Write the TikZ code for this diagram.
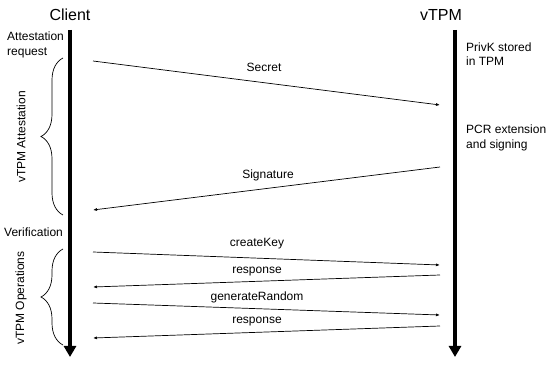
\documentclass[tikz,border=0pt]{standalone}
\usepackage{fontspec}
\setmainfont{Liberation Sans}
\usetikzlibrary{arrows.meta,decorations.pathreplacing}
\begin{document}
\begin{tikzpicture}[x=1pt,y=-1pt,
  lifeline/.style={line width=4pt,-{Triangle[length=11pt,width=12pt]}},
  msg/.style={line width=0.7pt,-{Latex[length=4pt,width=3pt]}},
  title/.style={font=\fontsize{16}{19}\selectfont,inner sep=0pt},
  lbl/.style={font=\fontsize{12}{14.5}\selectfont,inner sep=0pt},
  note/.style={font=\fontsize{12}{14.5}\selectfont,inner sep=0pt,align=left,anchor=west},
  bracestyle/.style={line width=0.7pt,decorate,decoration={brace,amplitude=22pt,aspect=0.5}}]
\useasboundingbox (0,0) rectangle (550,366);
% titles
\node[title] (client) at (70,15) {Client};
\node[title] (vtpm) at (441,15) {vTPM};
% lifelines
\coordinate (ctop) at (70,30);
\coordinate (cbot) at (70,357);
\coordinate (vtop) at (455,30);
\coordinate (vbot) at (455,357);
\draw[lifeline] (ctop) -- (cbot);
\draw[lifeline] (vtop) -- (vbot);
% message endpoints
\coordinate (s1) at (93,61);   \coordinate (e1) at (440,105);
\coordinate (s2) at (440,167); \coordinate (e2) at (93,210);
\coordinate (s3) at (93,252);  \coordinate (e3) at (440,265);
\coordinate (s4) at (440,275); \coordinate (e4) at (93,287);
\coordinate (s5) at (93,303);  \coordinate (e5) at (440,315);
\coordinate (s6) at (440,326); \coordinate (e6) at (93,338);
\draw[msg] (s1) -- (e1);
\draw[msg] (s2) -- (e2);
\draw[msg] (s3) -- (e3);
\draw[msg] (s4) -- (e4);
\draw[msg] (s5) -- (e5);
\draw[msg] (s6) -- (e6);
% message labels
\node[lbl] (l1) at (264,67) {Secret};
\node[lbl] (l2) at (268,175) {Signature};
\node[lbl] (l3) at (257,244) {createKey};
\node[lbl] (l4) at (257,272) {response};
\node[lbl] (l5) at (257,297) {generateRandom};
\node[lbl] (l6) at (257,322) {response};
% left notes
\node[note] (areq) at (7,45) {Attestation\\request};
\node[note] (verif) at (4,232) {Verification};
% right notes
\node[note] (privk) at (466,54) {PrivK stored\\in TPM};
\node[note] (pcr) at (466,138) {PCR extension\\and signing};
% braces
\coordinate (b1t) at (63,58);  \coordinate (b1b) at (63,215);
\coordinate (b2t) at (63,249); \coordinate (b2b) at (63,345);
\draw[bracestyle] (b1b) -- (b1t);
\draw[bracestyle] (b2b) -- (b2t);
\node[lbl,rotate=90] (att) at (21,137) {vTPM Attestation};
\node[lbl,rotate=90] (ops) at (21,298) {vTPM Operations};
\end{tikzpicture}
\end{document}
